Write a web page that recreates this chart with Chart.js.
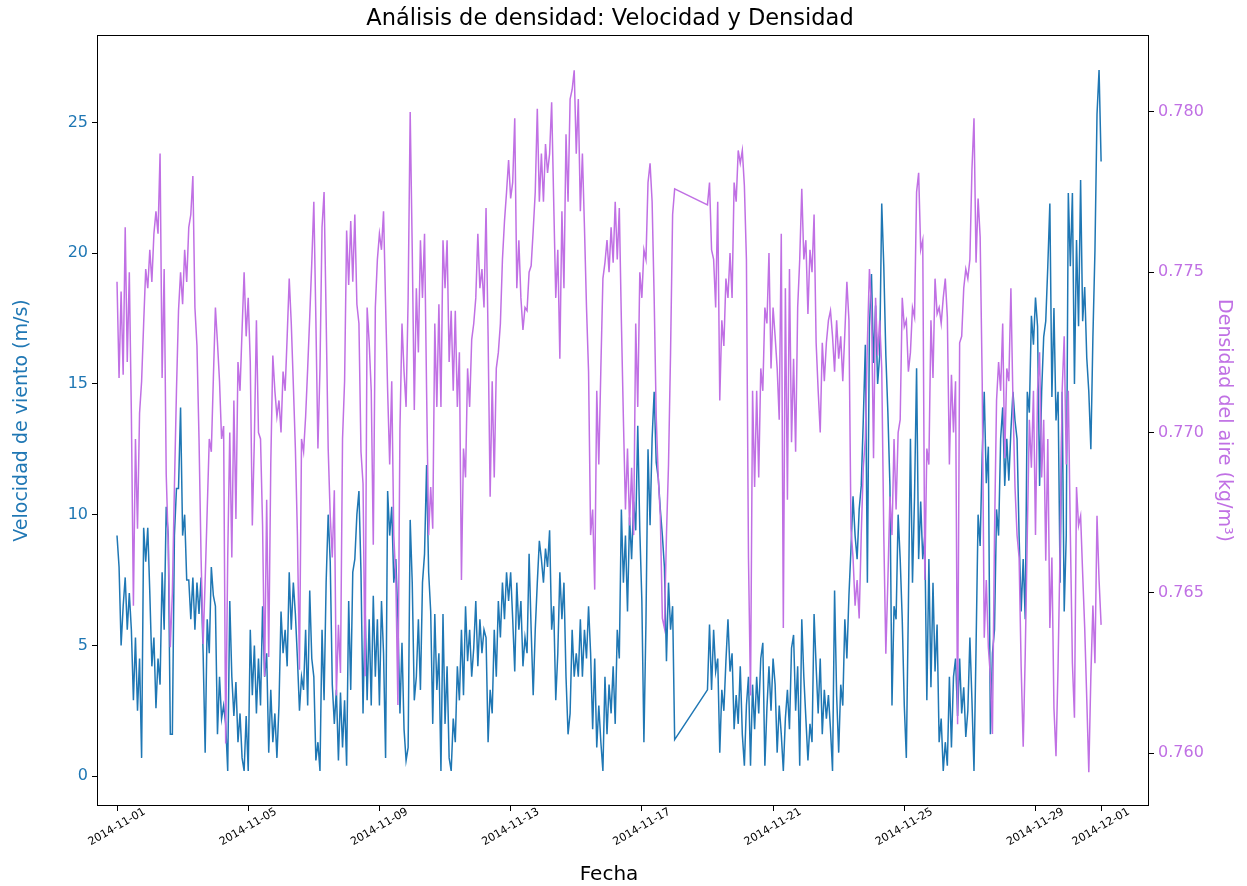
<!DOCTYPE html>
<html>
<head>
<meta charset="utf-8">
<script src="https://cdn.jsdelivr.net/npm/chart.js@4.4.1/dist/chart.umd.min.js"></script>
<style>
  html, body { margin: 0; padding: 0; background: #fff; }
  #wrap { width: 1247px; height: 886px; }
</style>
</head>
<body>
<div id="wrap"><canvas id="densityChart" width="1247" height="886"></canvas></div>
<script>
// Análisis de densidad - one reading every 1.5 hours from 2014-11-01 00:00 (16 per row = 1 day)
const STEP_HOURS = 1.5;

// Velocidad de viento (m/s); null = no data (2014-11-18)
const windSpeed = [
    9.2, 8.0, 5.0, 6.5, 7.6, 5.6, 7.0, 5.6, 2.9, 5.3, 2.5, 4.5, 0.7, 9.5, 8.2, 9.5,
    7.0, 4.2, 5.3, 2.6, 4.5, 3.5, 7.8, 5.6, 10.3, 9.2, 1.6, 1.6, 9.2, 11.0, 11.0, 14.1,
    9.2, 10.0, 7.5, 7.5, 6.0, 7.6, 5.6, 7.4, 6.2, 7.6, 4.7, 0.9, 6.0, 4.7, 8.0, 6.9,
    6.5, 1.6, 3.8, 2.2, 2.7, 2.0, 0.2, 6.7, 3.8, 2.3, 3.6, 1.3, 2.4, 0.7, 0.2, 2.3,
    0.2, 5.6, 3.1, 5.0, 2.4, 4.5, 2.7, 6.5, 3.8, 4.7, 0.9, 3.3, 1.3, 2.4, 0.7, 2.7,
    6.3, 4.7, 5.6, 4.2, 7.8, 5.6, 7.4, 6.2, 4.5, 2.5, 3.8, 3.3, 5.6, 2.7, 7.1, 4.5,
    3.8, 0.6, 1.3, 0.2, 5.6, 2.9, 7.4, 10.0, 8.2, 3.5, 2.0, 3.3, 0.6, 3.2, 1.1, 2.9,
    0.4, 6.7, 3.3, 7.8, 8.3, 10.0, 10.9, 7.8, 2.4, 6.5, 2.9, 6.0, 2.7, 6.9, 3.8, 6.0,
    2.7, 6.7, 4.7, 0.7, 10.9, 9.2, 10.3, 7.4, 8.3, 6.0, 2.4, 5.1, 1.8, 0.6, 1.1, 9.8,
    7.4, 2.9, 3.8, 6.0, 3.3, 7.4, 8.5, 11.9, 7.8, 6.3, 2.0, 6.2, 3.3, 4.7, 0.2, 6.2,
    2.0, 4.2, 0.7, 0.2, 2.2, 1.3, 4.2, 2.9, 5.6, 3.1, 6.5, 4.4, 5.6, 3.8, 4.9, 6.7,
    4.2, 6.0, 4.7, 5.6, 5.3, 1.3, 3.3, 2.4, 5.6, 3.8, 6.7, 5.3, 7.4, 6.0, 7.8, 6.7,
    7.8, 6.0, 4.0, 7.4, 5.6, 6.7, 4.2, 5.3, 4.7, 8.5, 5.6, 3.1, 5.6, 7.4, 9.0, 8.3,
    7.4, 8.7, 8.0, 9.4, 5.6, 6.5, 2.9, 4.7, 7.8, 6.0, 7.4, 3.8, 1.6, 2.4, 5.6, 3.8,
    4.7, 3.8, 6.0, 3.8, 5.6, 4.5, 6.5, 4.7, 1.8, 4.5, 1.1, 2.7, 1.3, 0.2, 3.8, 1.6,
    3.5, 2.4, 4.2, 2.0, 5.6, 4.5, 10.2, 7.4, 9.2, 6.3, 9.9, 8.3, 10.5, 9.4, 13.4, 9.4,
    6.7, 1.3, 5.9, 12.5, 9.6, 12.9, 14.7, 12.0, 11.4, 10.2, 9.2, 8.0, 4.4, 7.4, 5.6, 6.5,
    1.4, null, null, null, null, null, null, null, null, null, null, null, null, null, null, null,
    3.3, 5.8, 3.3, 5.6, 4.0, 4.5, 0.9, 3.3, 2.5, 4.4, 6.0, 4.0, 4.7, 1.8, 3.1, 2.0,
    4.2, 1.6, 0.4, 2.7, 3.8, 0.4, 3.5, 1.8, 3.8, 2.4, 4.5, 5.1, 0.4, 2.6, 4.2, 2.5,
    4.5, 3.5, 0.9, 2.7, 1.6, 0.2, 2.2, 3.3, 1.8, 4.9, 5.4, 2.5, 4.2, 0.4, 6.0, 3.8,
    2.2, 0.6, 2.0, 1.3, 6.2, 4.2, 2.4, 4.5, 1.6, 3.3, 2.2, 3.1, 1.8, 0.2, 7.1, 3.1,
    0.9, 3.5, 2.7, 6.0, 4.5, 6.9, 8.7, 10.7, 9.2, 8.3, 10.2, 11.1, 13.6, 16.5, 7.4, 17.2,
    19.2, 15.8, 18.0, 15.0, 16.1, 21.9, 19.5, 16.1, 13.9, 11.1, 2.7, 6.5, 6.0, 10.0, 8.3, 6.0,
    2.7, 0.7, 6.5, 12.9, 7.4, 10.7, 15.6, 8.3, 10.5, 8.3, 9.2, 2.9, 8.3, 3.4, 7.4, 4.0,
    5.8, 1.3, 2.2, 0.2, 1.3, 0.4, 3.8, 1.1, 3.8, 4.5, 2.3, 4.5, 2.4, 3.4, 1.5, 2.5,
    5.3, 2.9, 0.2, 4.9, 10.0, 8.8, 12.3, 14.7, 11.2, 12.6, 1.6, 4.7, 5.6, 10.2, 9.2, 12.9,
    14.1, 11.1, 12.9, 11.3, 13.2, 14.7, 13.6, 12.9, 9.2, 6.3, 8.3, 6.0, 14.7, 13.9, 17.6, 16.5,
    18.3, 17.2, 11.1, 14.7, 16.8, 17.4, 19.5, 21.9, 14.5, 17.9, 13.6, 14.7, 7.4, 14.7, 6.3, 9.2,
    22.3, 19.5, 22.3, 15.0, 20.5, 17.2, 22.8, 17.4, 18.7, 16.0, 14.7, 12.5, 16.8, 20.1, 25.3, 27.0,
    23.5
];

// Densidad del aire (kg/m3)
const airDensity = [
    0.7747, 0.7717, 0.7744, 0.7718, 0.7764, 0.7722, 0.7750, 0.7706, 0.7646, 0.7698, 0.7670, 0.7706, 0.7716, 0.7734, 0.7751, 0.7745,
    0.7757, 0.7747, 0.7762, 0.7769, 0.7762, 0.7787, 0.7717, 0.7751, 0.7687, 0.7665, 0.7633, 0.7650, 0.7683, 0.7713, 0.7738, 0.7750,
    0.7740, 0.7757, 0.7747, 0.7764, 0.7768, 0.7780, 0.7739, 0.7727, 0.7698, 0.7661, 0.7634, 0.7654, 0.7676, 0.7698, 0.7694, 0.7717,
    0.7739, 0.7728, 0.7716, 0.7698, 0.7702, 0.7603, 0.7661, 0.7700, 0.7661, 0.7710, 0.7673, 0.7722, 0.7713, 0.7732, 0.7750, 0.7730,
    0.7742, 0.7722, 0.7671, 0.7698, 0.7735, 0.7700, 0.7698, 0.7671, 0.7624, 0.7679, 0.7630, 0.7690, 0.7724, 0.7713, 0.7705, 0.7710,
    0.7700, 0.7719, 0.7713, 0.7730, 0.7748, 0.7734, 0.7715, 0.7695, 0.7668, 0.7626, 0.7698, 0.7694, 0.7705, 0.7720, 0.7736, 0.7753,
    0.7772, 0.7735, 0.7695, 0.7720, 0.7764, 0.7775, 0.7736, 0.7695, 0.7674, 0.7661, 0.7682, 0.7618, 0.7640, 0.7625, 0.7698, 0.7716,
    0.7763, 0.7746, 0.7766, 0.7747, 0.7768, 0.7740, 0.7734, 0.7694, 0.7684, 0.7624, 0.7739, 0.7728, 0.7713, 0.7665, 0.7739, 0.7754,
    0.7762, 0.7757, 0.7769, 0.7740, 0.7713, 0.7690, 0.7716, 0.7668, 0.7654, 0.7615, 0.7701, 0.7734, 0.7719, 0.7708, 0.7742, 0.7800,
    0.7757, 0.7707, 0.7745, 0.7725, 0.7760, 0.7742, 0.7762, 0.7713, 0.7668, 0.7683, 0.7670, 0.7734, 0.7708, 0.7740, 0.7708, 0.7760,
    0.7745, 0.7760, 0.7722, 0.7738, 0.7713, 0.7738, 0.7708, 0.7725, 0.7654, 0.7695, 0.7686, 0.7720, 0.7708, 0.7729, 0.7734, 0.7742,
    0.7762, 0.7745, 0.7751, 0.7739, 0.7770, 0.7730, 0.7680, 0.7716, 0.7686, 0.7720, 0.7725, 0.7734, 0.7754, 0.7766, 0.7775, 0.7785,
    0.7773, 0.7778, 0.7798, 0.7745, 0.7760, 0.7742, 0.7732, 0.7739, 0.7738, 0.7750, 0.7752, 0.7763, 0.7775, 0.7801, 0.7772, 0.7787,
    0.7772, 0.7790, 0.7781, 0.7787, 0.7803, 0.7772, 0.7742, 0.7757, 0.7723, 0.7769, 0.7745, 0.7793, 0.7772, 0.7804, 0.7807, 0.7813,
    0.7787, 0.7804, 0.7769, 0.7787, 0.7764, 0.7739, 0.7719, 0.7668, 0.7676, 0.7651, 0.7713, 0.7690, 0.7720, 0.7748, 0.7753, 0.7760,
    0.7750, 0.7764, 0.7753, 0.7772, 0.7754, 0.7770, 0.7735, 0.7704, 0.7676, 0.7695, 0.7671, 0.7689, 0.7668, 0.7734, 0.7708, 0.7750,
    0.7742, 0.7757, 0.7754, 0.7778, 0.7784, 0.7772, 0.7742, 0.7705, 0.7686, 0.7674, 0.7642, 0.7639, 0.7668, 0.7690, 0.7725, 0.7768,
    0.7776, null, null, null, null, null, null, null, null, null, null, null, null, null, null, null,
    0.7771, 0.7778, 0.7757, 0.7754, 0.7739, 0.7772, 0.7710, 0.7735, 0.7727, 0.7748, 0.7742, 0.7756, 0.7742, 0.7778, 0.7772, 0.7788,
    0.7784, 0.7788, 0.7777, 0.7754, 0.7661, 0.7618, 0.7713, 0.7683, 0.7713, 0.7686, 0.7720, 0.7713, 0.7739, 0.7734, 0.7756, 0.7720,
    0.7739, 0.7730, 0.7720, 0.7704, 0.7762, 0.7639, 0.7745, 0.7679, 0.7751, 0.7697, 0.7723, 0.7694, 0.7739, 0.7754, 0.7776, 0.7754,
    0.7760, 0.7737, 0.7757, 0.7750, 0.7768, 0.7728, 0.7713, 0.7700, 0.7728, 0.7716, 0.7728, 0.7735, 0.7738, 0.7730, 0.7719, 0.7735,
    0.7723, 0.7730, 0.7716, 0.7731, 0.7747, 0.7735, 0.7670, 0.7661, 0.7646, 0.7654, 0.7642, 0.7668, 0.7689, 0.7698, 0.7728, 0.7751,
    0.7739, 0.7692, 0.7742, 0.7724, 0.7735, 0.7720, 0.7668, 0.7631, 0.7654, 0.7680, 0.7668, 0.7698, 0.7676, 0.7700, 0.7704, 0.7742,
    0.7733, 0.7735, 0.7719, 0.7725, 0.7739, 0.7736, 0.7775, 0.7781, 0.7757, 0.7760, 0.7654, 0.7695, 0.7690, 0.7735, 0.7717, 0.7748,
    0.7737, 0.7739, 0.7734, 0.7742, 0.7748, 0.7736, 0.7690, 0.7718, 0.7700, 0.7716, 0.7609, 0.7728, 0.7730, 0.7745, 0.7751, 0.7748,
    0.7754, 0.7782, 0.7798, 0.7753, 0.7773, 0.7761, 0.7716, 0.7636, 0.7654, 0.7633, 0.7624, 0.7606, 0.7668, 0.7710, 0.7722, 0.7713,
    0.7734, 0.7692, 0.7720, 0.7716, 0.7745, 0.7710, 0.7683, 0.7668, 0.7661, 0.7627, 0.7602, 0.7631, 0.7668, 0.7704, 0.7689, 0.7713,
    0.7668, 0.7713, 0.7725, 0.7686, 0.7704, 0.7660, 0.7698, 0.7639, 0.7661, 0.7614, 0.7599, 0.7627, 0.7664, 0.7713, 0.7730, 0.7690,
    0.7713, 0.7668, 0.7628, 0.7611, 0.7683, 0.7671, 0.7674, 0.7656, 0.7639, 0.7617, 0.7594, 0.7624, 0.7646, 0.7628, 0.7674, 0.7654,
    0.7640
];

// Tick positions (days since 2014-11-01) and their labels
const dateTicks = [0, 4, 8, 12, 16, 20, 24, 28, 30];
const dateLabels = ['2014-11-01', '2014-11-05', '2014-11-09', '2014-11-13', '2014-11-17',
    '2014-11-21', '2014-11-25', '2014-11-29', '2014-12-01'];
const speedTicks = [0, 5, 10, 15, 20, 25];
const densityTicks = [0.760, 0.765, 0.770, 0.775, 0.780];

const BLUE = '#1f77b4';
const PURPLE = '#c070e4';
const FONT = '"DejaVu Sans", "Liberation Sans", sans-serif';

const toPoints = (values) => values.map((v, i) => ({ x: i * STEP_HOURS / 24, y: v }));

// Frame, title, rotated date labels and x title
const extraDraw = {
    id: 'extraDraw',
    afterDraw(chart) {
        const { ctx, chartArea: a } = chart;
        const xScale = chart.scales.x;
        ctx.save();
        ctx.strokeStyle = '#000';
        ctx.lineWidth = 1;
        ctx.strokeRect(a.left + 0.5, a.top + 0.5, a.right - a.left - 1, a.bottom - a.top - 1);

        ctx.fillStyle = '#000';
        ctx.textAlign = 'center';
        ctx.textBaseline = 'middle';
        ctx.font = '22.5px ' + FONT;
        ctx.fillText('Análisis de densidad: Velocidad y Densidad', 610, 19);

        ctx.font = '20px ' + FONT;
        ctx.fillText('Fecha', 609, 875);

        ctx.font = '11px ' + FONT;
        dateTicks.forEach((d, i) => {
            const px = xScale.getPixelForValue(d);
            ctx.save();
            ctx.translate(px, a.bottom + 21);
            ctx.rotate(-Math.PI / 6);
            ctx.fillText(dateLabels[i], 0, 0);
            ctx.restore();
        });
        ctx.restore();
    }
};

new Chart(document.getElementById('densityChart'), {
    type: 'line',
    data: {
        datasets: [{
            label: 'Densidad del aire',
            data: toPoints(airDensity),
            yAxisID: 'yDensity',
            borderColor: PURPLE,
            borderWidth: 1.5,
            pointRadius: 0,
            spanGaps: true,
            order: 1
        }, {
            label: 'Velocidad de viento',
            data: toPoints(windSpeed),
            yAxisID: 'ySpeed',
            borderColor: BLUE,
            borderWidth: 1.5,
            pointRadius: 0,
            spanGaps: true,
            order: 2
        }]
    },
    options: {
        responsive: false,
        animation: false,
        layout: { padding: { top: 35, left: 0, right: 0, bottom: 0 } },
        plugins: {
            legend: { display: false },
            tooltip: { enabled: false }
        },
        scales: {
            x: {
                type: 'linear',
                min: -0.61,
                max: 31.46,
                afterBuildTicks: (scale) => { scale.ticks = dateTicks.map(v => ({ value: v })); },
                afterFit: (scale) => { scale.height = 80; },
                ticks: { display: false },
                grid: { drawOnChartArea: false, drawTicks: true, tickLength: 5, color: '#000' },
                border: { display: false }
            },
            ySpeed: {
                type: 'linear',
                position: 'left',
                min: -1.14,
                max: 28.34,
                afterBuildTicks: (scale) => { scale.ticks = speedTicks.map(v => ({ value: v })); },
                afterFit: (scale) => { scale.width = 97; },
                ticks: { color: BLUE, font: { family: FONT, size: 16 }, padding: 4 },
                grid: { drawOnChartArea: false, drawTicks: true, tickLength: 5, color: '#000' },
                border: { display: false },
                title: {
                    display: true,
                    text: 'Velocidad de viento (m/s)',
                    color: BLUE,
                    font: { family: FONT, size: 19 },
                    padding: { top: 11, bottom: 0 }
                }
            },
            yDensity: {
                type: 'linear',
                position: 'right',
                min: 0.75835,
                max: 0.7824,
                afterBuildTicks: (scale) => { scale.ticks = densityTicks.map(v => ({ value: v })); },
                afterFit: (scale) => { scale.width = 98; },
                ticks: {
                    color: PURPLE,
                    font: { family: FONT, size: 16 },
                    padding: 4,
                    callback: (v) => v.toFixed(3)
                },
                grid: { drawOnChartArea: false, drawTicks: true, tickLength: 5, color: '#000' },
                border: { display: false },
                title: {
                    display: true,
                    text: 'Densidad del aire (kg/m³)',
                    color: PURPLE,
                    font: { family: FONT, size: 19 },
                    padding: { top: 12, bottom: 0 }
                }
            }
        }
    },
    plugins: [extraDraw]
});
</script>
</body>
</html>
